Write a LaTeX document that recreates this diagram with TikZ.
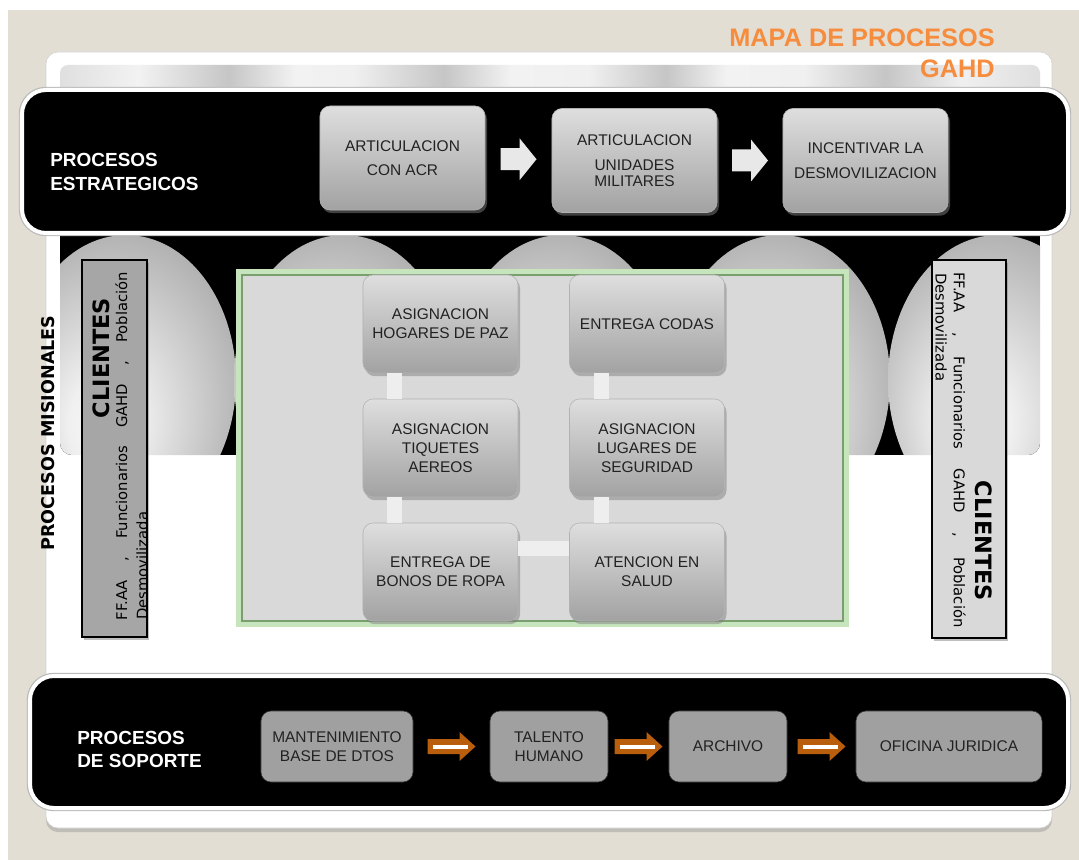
\documentclass[tikz,border=0pt]{standalone}
\usepackage{fontspec}
\setmainfont{Liberation Sans}
\newfontfamily\verdana{DejaVu Sans}
\usetikzlibrary{calc,shadows}

\definecolor{fondo}{RGB}{227,222,212}
\definecolor{naranja}{RGB}{245,140,62}
\definecolor{cajaclara}{RGB}{222,222,222}
\definecolor{cajaoscura}{RGB}{162,162,162}
\definecolor{grisplano}{RGB}{160,160,160}
\definecolor{panelgris}{RGB}{217,217,217}
\definecolor{brillo}{RGB}{160,212,145}
\definecolor{enlacegris}{RGB}{238,238,238}
\definecolor{flechagris}{RGB}{232,232,232}
\definecolor{flechanaranja}{RGB}{184,94,12}
\definecolor{texto}{RGB}{34,34,34}
\definecolor{clienteoscuro}{RGB}{166,166,166}

\pgfdeclarehorizontalshading{franja}{100bp}{color(0bp)=(gray!25); color(25bp)=(gray!25);
  color(29bp)=(gray!10); color(33.6bp)=(gray!45); color(37bp)=(gray!10);
  color(40bp)=(gray!12); color(44.6bp)=(gray!45); color(48bp)=(gray!10);
  color(52bp)=(gray!12); color(55.9bp)=(gray!45); color(59bp)=(gray!10);
  color(63bp)=(gray!12); color(67.1bp)=(gray!45); color(71bp)=(gray!12);
  color(75bp)=(gray!25); color(100bp)=(gray!25)}
\pgfdeclareradialshading{domo}{\pgfpoint{-6bp}{-9bp}}{color(0bp)=(gray!6); color(8bp)=(gray!12);
  color(30bp)=(gray!62); color(50bp)=(gray!62)}

\begin{document}
\begin{tikzpicture}[x=0.025cm,y=-0.025cm,
    titulo/.style={font=\fontsize{18}{20}\selectfont\bfseries, text=naranja, inner sep=0, anchor=east},
    banda/.style={draw=white, line width=1mm, fill=black, rounded corners=6mm},
    etiqueta/.style={text=white, font=\fontsize{13.5}{17}\selectfont\bfseries, align=left, inner sep=0, anchor=west},
    gbox/.style={rounded corners=2.5mm, top color=cajaclara, bottom color=cajaoscura, draw=gray!60,
      drop shadow={opacity=0.5, shadow xshift=0.5mm, shadow yshift=-0.8mm},
      align=center, text=texto, font=\fontsize{11}{13.5}\selectfont},
    sbox/.style={rounded corners=2.5mm, fill=grisplano, draw=gray!40!black, align=center, text=texto,
      font=\fontsize{11}{13.5}\selectfont, minimum height=17.75mm},
    cliente/.style={draw=black, line width=0.4mm, drop shadow={opacity=0.5, shadow xshift=0.6mm, shadow yshift=-0.8mm}},
    ctexto/.style={font=\verdana\fontsize{10.5}{12}\selectfont, inner sep=0},
    ctitulo/.style={font=\verdana\fontsize{16}{18}\selectfont\bfseries, inner sep=0},
    enlace/.style={draw=enlacegris, line width=3.75mm},
    flechaest/.pic={\fill[flechagris] (-18,-11) -- (1,-11) -- (1,-21) -- (18,0) -- (1,21) -- (1,11) -- (-18,11) -- cycle;},
    flechasop/.pic={\fill[flechanaranja] (-24,-7.5) -- (8,-7.5) -- (8,-14.5) -- (24,0) -- (8,14.5) -- (8,7.5) -- (-24,7.5) -- cycle;
      \draw[white, line width=1mm] (-19,0) -- (16,0);}]

    \useasboundingbox (0,0) rectangle (1079,860);
    \fill[white] (0,0) rectangle (1079,860);
    \fill[fondo] (8,10) rectangle (1079,860);

    \fill[white, rounded corners=3mm, drop shadow={opacity=0.35, shadow xshift=0mm, shadow yshift=-1mm}] (46,52) rectangle (1052,828);
    \draw[gray!35, rounded corners=3mm] (46,52) rectangle (1052,828);
    \shade[shading=franja, rounded corners=2mm] (60,65) rectangle (1040,96);

    \begin{scope}
      \clip[rounded corners=3mm] (60,225) rectangle (1040,455);
      \fill[black] (60,225) rectangle (1040,455);
      \foreach \cx in {126,344,562,780,998}
        \shade[shading=domo] (\cx,380) ellipse [x radius=110, y radius=145];
    \end{scope}

    \draw[gray!55, line width=1.6mm, rounded corners=6mm] (22,90) rectangle (1068,233);
    \draw[banda] (22,90) rectangle (1068,233);
    \draw[gray!55, line width=1.6mm, rounded corners=6mm] (30,676) rectangle (1068,808);
    \draw[banda] (30,676) rectangle (1068,808);

    \node[titulo] at (995,38) (T1) {MAPA DE PROCESOS};
    \node[titulo] at (995,69) (T2) {GAHD};

    \node[etiqueta] at (50,172) (PE) {PROCESOS\\ESTRATEGICOS};
    \node[gbox, minimum width=41.25mm, minimum height=26mm] at (402.5,158) (S1) {ARTICULACION\\[4pt]CON ACR};
    \node[gbox, minimum width=41.25mm, minimum height=26mm] at (634.5,160.5) (S2) {ARTICULACION\\[4pt]UNIDADES\\[-2pt]MILITARES};
    \node[gbox, minimum width=41.25mm, minimum height=26mm] at (865.5,160.5) (S3) {INCENTIVAR LA\\[4pt]DESMOVILIZACION};
    \pic at ($(S1.east)!0.5!(S2.west)$) {flechaest};
    \pic at ($(S2.east)!0.5!(S3.west)$) {flechaest};

    \draw[brillo!60, line width=2mm] (240,273) rectangle (845,623);
    \draw[brillo!75!black, line width=0.4mm] (242,275) rectangle (843,621);
    \fill[panelgris] (243,276) rectangle (842,620);

    \node[gbox, minimum width=38.75mm, minimum height=24.5mm] at (440.5,324) (M1) {ASIGNACION\\HOGARES DE PAZ};
    \node[gbox, minimum width=38.75mm, minimum height=24.5mm] at (440.5,448) (M2) {\fontsize{11}{12.5}\selectfont ASIGNACION\\TIQUETES\\AEREOS};
    \node[gbox, minimum width=38.75mm, minimum height=24.5mm] at (440.5,572) (M3) {ENTREGA DE\\BONOS DE ROPA};
    \node[gbox, minimum width=38.75mm, minimum height=24.5mm] at (647,324) (M4) {ENTREGA CODAS};
    \node[gbox, minimum width=38.75mm, minimum height=24.5mm] at (647,448) (M5) {\fontsize{11}{12.5}\selectfont ASIGNACION\\LUGARES DE\\SEGURIDAD};
    \node[gbox, minimum width=38.75mm, minimum height=24.5mm] at (647,572) (M6) {ATENCION EN\\SALUD};
    \draw[enlace] ($(M1.south)+(-46,0)$) -- ($(M2.north)+(-46,0)$);
    \draw[enlace] ($(M2.south)+(-46,0)$) -- ($(M3.north)+(-46,0)$);
    \draw[enlace] ($(M3.east)+(0,-24)$) -- ($(M6.west)+(0,-24)$);
    \draw[enlace] ($(M6.north)+(-46,0)$) -- ($(M5.south)+(-46,0)$);
    \draw[enlace] ($(M5.north)+(-46,0)$) -- ($(M4.south)+(-46,0)$);

    \node[rotate=90, font=\verdana\fontsize{12.5}{14}\selectfont\bfseries] at (48,433) (PM) {PROCESOS MISIONALES};

    \node[cliente, fill=clienteoscuro, minimum width=16.25mm, minimum height=94.25mm] at (114.5,448.5) (CL) {};
    \node[ctitulo, rotate=90] at (101,358) (CL1) {CLIENTES};
    \node[ctexto, rotate=90] at (122,446) (CL2) {\makebox[8.7cm]{FF.AA\hfill,\hfill Funcionarios\hfill GAHD\hfill,\hfill Población}};
    \node[ctexto, rotate=90, anchor=west] at (142,620) (CL3) {Desmovilizada};

    \node[cliente, fill=panelgris, minimum width=18.5mm, minimum height=94.5mm] at (969,449) (CR) {};
    \node[ctitulo, rotate=-90] at (984,541) (CR1) {CLIENTES};
    \node[ctexto, rotate=-90] at (959,450) (CR2) {\makebox[8.875cm]{FF.AA\hfill,\hfill Funcionarios\hfill GAHD\hfill,\hfill Población}};
    \node[ctexto, rotate=-90, anchor=west] at (941,273) (CR3) {Desmovilizada};

    \node[etiqueta] at (77,749.5) (PS) {PROCESOS\\DE SOPORTE};
    \node[sbox, minimum width=38mm] at (337,746.5) (B1) {MANTENIMIENTO\\BASE DE DTOS};
    \node[sbox, minimum width=29.5mm] at (549,746.5) (B2) {TALENTO\\HUMANO};
    \node[sbox, minimum width=29.5mm] at (728,746.5) (B3) {ARCHIVO};
    \node[sbox, minimum width=46.5mm] at (949,746.5) (B4) {OFICINA JURIDICA};
    \pic at ($(B1.east)!0.5!(B2.west)$) {flechasop};
    \pic at ($(B2.east)!0.5!(B3.west)$) {flechasop};
    \pic at ($(B3.east)!0.5!(B4.west)$) {flechasop};
\end{tikzpicture}
\end{document}
